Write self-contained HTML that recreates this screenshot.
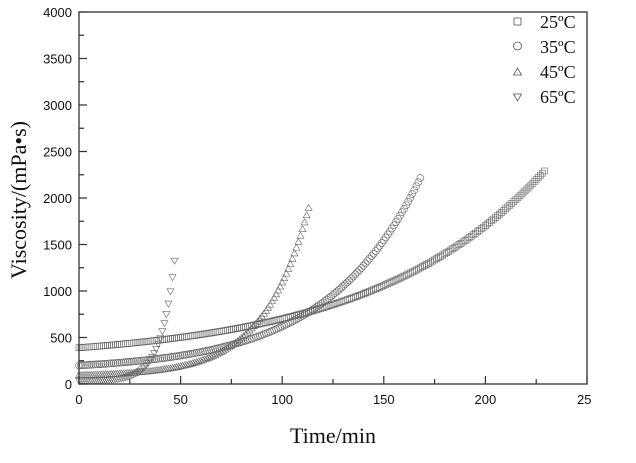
<!DOCTYPE html>
<html><head><style>body{margin:0;background:#fff}</style></head><body>
<svg id="s" width="636" height="458" xmlns="http://www.w3.org/2000/svg" font-family="Liberation Sans, sans-serif">
<g id="data" fill="none" stroke="#666" stroke-width="0.6"></g>
<rect x="79" y="12" width="508" height="372" fill="none" stroke="#333" stroke-width="1.3"/>
<g id="ticks" stroke="#333" stroke-width="1.2"></g>
<g id="lab" font-size="13" fill="#111"></g>
<g font-family="Liberation Serif, serif" font-size="18" fill="#111">
<text x="540" y="28">25ºC</text><text x="540" y="53">35ºC</text><text x="540" y="78">45ºC</text><text x="540" y="103">65ºC</text>
<text x="333" y="443" font-size="22" text-anchor="middle">Time/min</text>
<text transform="translate(26,200) rotate(-90)" font-size="22" text-anchor="middle">Viscosity/(mPa•s)</text>
</g>
<g fill="none" stroke="#555" stroke-width="0.8">
<rect x="514" y="18" width="7" height="7"/><circle cx="517.5" cy="46" r="4"/>
<path d="M513.5 75 L521.5 75 L517.5 68 Z"/><path d="M513.5 94 L521.5 94 L517.5 101 Z"/>
</g>
</svg>
<script>
const X=t=>79+t*508/250, Y=v=>384-v*372/4000;
let tk="",lb="";
for(let t=0;t<=250;t+=25){const x=X(t);tk+=`M${x} 384V${t%50?379:376}`;if(t%50==0&&t<250)lb+=`<text x="${x}" y="404" text-anchor="middle">${t}</text>`;}
lb+=`<text x="${X(250)-10}" y="404">25</text>`;
for(let v=0;v<=4000;v+=250){const y=Y(v);tk+=`M79 ${y}H${v%500?84:87}`;if(v%500==0)lb+=`<text x="72" y="${y+5}" text-anchor="end">${v}</text>`;}
document.getElementById("ticks").innerHTML=`<path d="${tk}"/>`;
document.getElementById("lab").innerHTML=lb;
const S=[[250,140,0.0117,229,"sq"],[146,54,0.0217,168,"ci"],[89,11.2,0.045,113,"up"],[29,1.29,0.147,47,"dn"]];
let d="";
for(const [a,b,k,T,m] of S){for(let t=0;t<=T;t+=1){const x=X(t),y=Y(a+b*Math.exp(k*t));
if(m=="sq")d+=`<rect x="${x-3}" y="${y-3}" width="6" height="6"/>`;
else if(m=="ci")d+=`<circle cx="${x}" cy="${y}" r="3.5"/>`;
else if(m=="up")d+=`<path d="M${x-3.5} ${y+3}L${x+3.5} ${y+3}L${x} ${y-3}Z"/>`;
else d+=`<path d="M${x-3.5} ${y-3}L${x+3.5} ${y-3}L${x} ${y+3}Z"/>`;}}
document.getElementById("data").innerHTML=d;
</script>
</body></html>
